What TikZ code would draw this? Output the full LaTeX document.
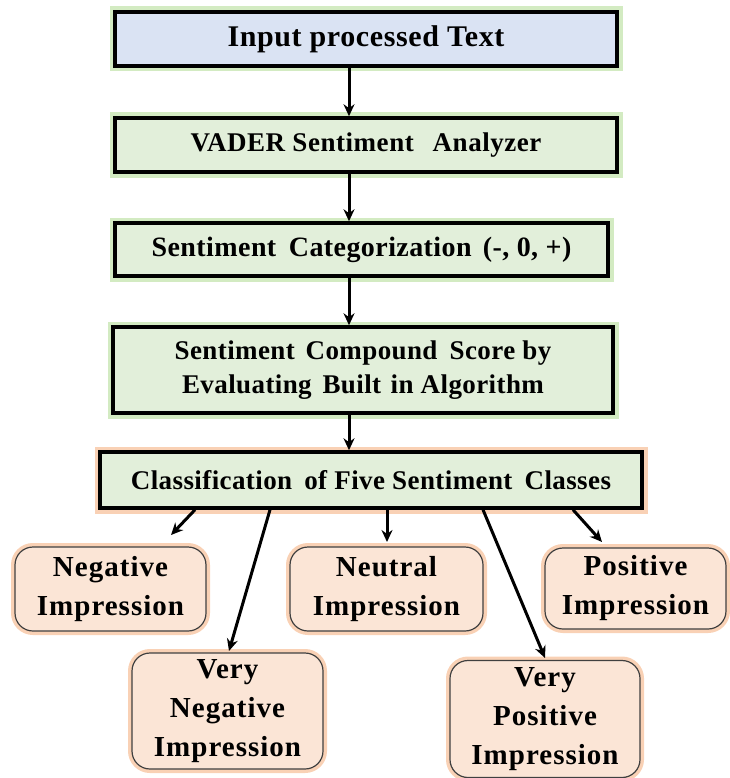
\documentclass[tikz,border=0pt]{standalone}
\usepackage{fontspec}
\setmainfont{Liberation Serif}
\newfontfamily\boxfont[LetterSpace=2]{Liberation Serif}
\newfontfamily\catfont[LetterSpace=1.5]{Liberation Serif}
\newfontfamily\leaffont[LetterSpace=3.5]{Liberation Serif}
\usetikzlibrary{arrows.meta}
\definecolor{bluefill}{HTML}{DAE3F3}
\definecolor{greenfill}{HTML}{E2EFDA}
\definecolor{peachfill}{HTML}{FBE5D6}
\definecolor{glowgreen}{HTML}{B5DD9A}
\definecolor{gloworange}{HTML}{F6BE96}
\tikzset{
  basebox/.style={draw=black, line width=3.5pt, fill=greenfill, inner sep=2pt, align=center},
  topbox/.style={basebox, preaction={draw=glowgreen, line width=11pt, opacity=0.6}},
  clsbox/.style={basebox, preaction={draw=gloworange, line width=11pt, opacity=0.7}},
  leafbox/.style={draw=black!75, line width=1.2pt, fill=peachfill, rounded corners=18pt, align=center,
    font=\leaffont\bfseries\fontsize{29}{39}\selectfont, inner sep=2pt,
    preaction={draw=gloworange, line width=8pt, opacity=0.7}},
  arr/.style={line width=3pt, -{Stealth[length=12pt,width=11pt]}}
}
\begin{document}
\begin{tikzpicture}[x=1pt,y=-1pt]
\useasboundingbox (0,0) rectangle (729,778);
\node[topbox, fill=bluefill, minimum width=502pt, minimum height=54pt,
  font=\boxfont\bfseries\fontsize{30}{36}\selectfont] (title) at (366,39) {Input processed Text};
\node[topbox, minimum width=502pt, minimum height=54pt,
  font=\boxfont\bfseries\fontsize{27}{34}\selectfont] (vader) at (366,145) {VADER Sentiment\hspace{0.7em}Analyzer};
\node[topbox, minimum width=493pt, minimum height=53pt,
  font=\catfont\bfseries\fontsize{28}{34}\selectfont] (cat) at (361.5,249.5) {Sentiment\hspace{0.45em}Categorization\hspace{0.4em}(-, 0, +)};
\node[topbox, minimum width=500pt, minimum height=86pt,
  font=\catfont\bfseries\fontsize{27}{34}\selectfont] (comp) at (363,370) {Sentiment\hspace{0.4em}Compound\hspace{0.45em}Score by\\Evaluating\hspace{0.4em}Built\hspace{0.35em}in Algorithm};
\node[clsbox, minimum width=542pt, minimum height=56pt,
  font=\catfont\bfseries\fontsize{27}{34}\selectfont] (cls) at (371,480) {Classification\hspace{0.45em}of Five Sentiment\hspace{0.45em}Classes};

\node[leafbox, minimum width=191pt, minimum height=84pt] (neg) at (110.5,589) {Negative\\Impression};
\node[leafbox, minimum width=191pt, minimum height=116pt] (vneg) at (227.5,711) {Very\\Negative\\Impression};
\node[leafbox, minimum width=193pt, minimum height=84pt] (neu) at (386.5,589) {Neutral\\Impression};
\node[leafbox, minimum width=181pt, minimum height=81pt] (pos) at (635.5,588.5) {Positive\\Impression};
\node[leafbox, minimum width=190pt, minimum height=117pt] (vpos) at (545,719) {Very\\Positive\\Impression};

\coordinate (ax) at (349,0);
\draw[arr] (title.south -| ax) -- (vader.north -| ax);
\draw[arr] (vader.south -| ax) -- (cat.north -| ax);
\draw[arr] (cat.south -| ax) -- (comp.north -| ax);
\draw[arr] (comp.south -| ax) -- (cls.north -| ax);

\coordinate (s1) at (195,0);
\coordinate (s2) at (270,0);
\coordinate (s3) at (387,0);
\coordinate (s4) at (483,0);
\coordinate (s5) at (573,0);
\coordinate (e1) at (171,535);
\coordinate (e2) at (229,651);
\coordinate (e3) at (387,542);
\coordinate (e4) at (545,658);
\coordinate (e5) at (602,542);
\draw[arr] (cls.south -| s1) -- (e1);
\draw[arr] (cls.south -| s2) -- (e2);
\draw[arr] (cls.south -| s3) -- (e3);
\draw[arr] (cls.south -| s4) -- (e4);
\draw[arr] (cls.south -| s5) -- (e5);
\end{tikzpicture}
\end{document}
